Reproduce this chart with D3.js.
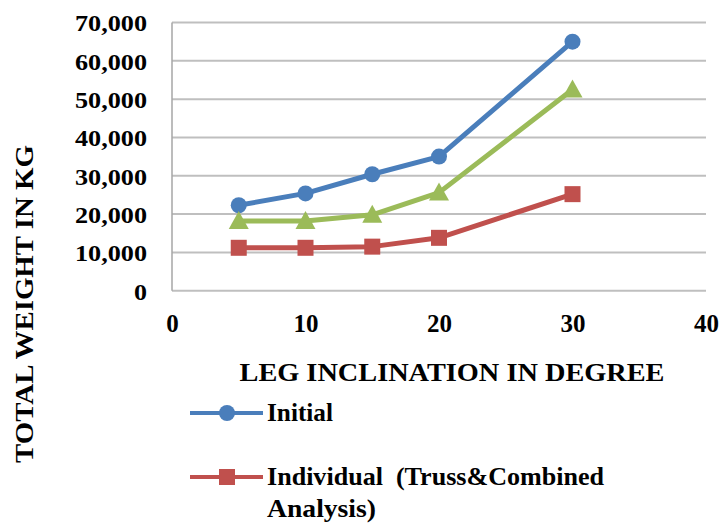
<!DOCTYPE html>
<html><head><meta charset="utf-8">
<script src="https://cdn.jsdelivr.net/npm/d3@7"></script>
<style>body{margin:0;background:#fff}svg{display:block}</style>
</head><body>
<svg id="c" width="719" height="523"></svg>
<script>
const xValues = [5, 10, 15, 20, 30];
const initialValues = [22300, 25400, 30400, 35000, 65000];
const combinedValues = [18200, 18200, 19800, 25600, 52500];
const individualValues = [11200, 11200, 11500, 13800, 25200];
const xTicks = [0, 10, 20, 30, 40];
const yTicks = [0, 10000, 20000, 30000, 40000, 50000, 60000, 70000];
const seriesNames = ["Initial", "Combined", "Individual  (Truss&Combined Analysis)"];
const colors = ["#4a7ebb", "#9bbb59", "#c0504d"];
const shapes = ["circle", "triangle", "square"];

const series = [
  {name: seriesNames[0], values: initialValues, color: colors[0], shape: shapes[0]},
  {name: seriesNames[1], values: combinedValues, color: colors[1], shape: shapes[1]},
  {name: seriesNames[2], values: individualValues, color: colors[2], shape: shapes[2]}
];

const FONT = "'Liberation Serif', Tinos, 'Times New Roman', Times, 'DejaVu Serif', 'Noto Serif', serif";
const svg = d3.select("#c");
const L = 172, R = 706, T = 22.5, B = 290.7;
const x = d3.scaleLinear().domain([0, 40]).range([L, R]);
const y = d3.scaleLinear().domain([0, 70000]).range([B, T]);

function styleText(sel, size) {
  return sel.style("font-family", FONT).style("font-weight", "bold").style("font-size", size + "px").style("fill", "#000");
}
function numLen(s, dw, cw) {
  let n = 0;
  for (const ch of s) n += (ch === ",") ? cw : dw;
  return n;
}

// gridlines
svg.append("g").selectAll("line").data(yTicks).join("line")
  .attr("x1", L).attr("x2", R).attr("y1", d => y(d)).attr("y2", d => y(d))
  .attr("stroke", "#bfbfbf").attr("stroke-width", 2);
svg.append("line").attr("x1", L).attr("x2", L).attr("y1", T).attr("y2", B)
  .attr("stroke", "#a6a6a6").attr("stroke-width", 1.5);

// y axis
const fmt = d3.format(",");
const yAxis = d3.axisLeft(y).tickValues(yTicks).tickFormat(fmt).tickSize(0).tickPadding(0);
const gy = svg.append("g").attr("transform", `translate(147,0)`).call(yAxis);
gy.select(".domain").remove();
styleText(gy.selectAll("text"), 24).attr("dy", "0.35em")
  .attr("textLength", d => numLen(fmt(d), 13, 7)).attr("lengthAdjust", "spacingAndGlyphs");

// x axis
const xAxis = d3.axisBottom(x).tickValues(xTicks).tickSize(0).tickPadding(0);
const gx = svg.append("g").attr("transform", `translate(0,314)`).call(xAxis);
gx.select(".domain").remove();
styleText(gx.selectAll("text"), 25).attr("dy", "0.71em")
  .attr("textLength", d => numLen(String(d), 12.5, 6)).attr("lengthAdjust", "spacingAndGlyphs");

// axis titles
styleText(svg.append("text"), 25).attr("x", 452).attr("y", 381).attr("text-anchor", "middle")
  .attr("textLength", 425).attr("lengthAdjust", "spacingAndGlyphs")
  .text("LEG INCLINATION IN DEGREE");
styleText(svg.append("text"), 25).attr("transform", "translate(33,304) rotate(-90)").attr("text-anchor", "middle")
  .attr("textLength", 318).attr("lengthAdjust", "spacingAndGlyphs")
  .text("TOTAL WEIGHT IN KG");

const line = d3.line().x((d, i) => x(xValues[i])).y(d => y(d)).curve(d3.curveLinear);

function marker(g, shape, color, cx, cy) {
  if (shape === "circle") g.append("circle").attr("cx", cx).attr("cy", cy).attr("r", 8).attr("fill", color);
  else if (shape === "square") g.append("rect").attr("x", cx - 8).attr("y", cy - 8).attr("width", 16).attr("height", 16).attr("fill", color);
  else g.append("path").attr("d", `M${cx},${cy - 10}L${cx + 10},${cy + 8}L${cx - 10},${cy + 8}Z`).attr("fill", color);
}

series.forEach(s => {
  const g = svg.append("g");
  g.append("path").attr("d", line(s.values)).attr("fill", "none").attr("stroke", s.color)
    .attr("stroke-width", 5).attr("stroke-linejoin", "round");
  s.values.forEach((v, i) => marker(g, s.shape, s.color, x(xValues[i]), y(v)));
});

// legend (green entry is cropped out in the reference)
const leg = [
  {s: series[0], y: 413, lines: [["Initial", 66]]},
  {s: series[2], y: 477, lines: [["Individual\u00a0\u00a0(Truss&Combined", 337], ["Analysis)", 109]]}
];
leg.forEach(e => {
  const g = svg.append("g");
  g.append("line").attr("x1", 190).attr("x2", 263).attr("y1", e.y).attr("y2", e.y)
    .attr("stroke", e.s.color).attr("stroke-width", 4);
  marker(g, e.s.shape, e.s.color, 227, e.y);
  e.lines.forEach((t, i) => styleText(g.append("text"), 25).attr("x", 267).attr("y", e.y + 8 + i * 32)
    .attr("textLength", t[1]).attr("lengthAdjust", "spacingAndGlyphs").text(t[0]));
});
</script>
</body></html>
